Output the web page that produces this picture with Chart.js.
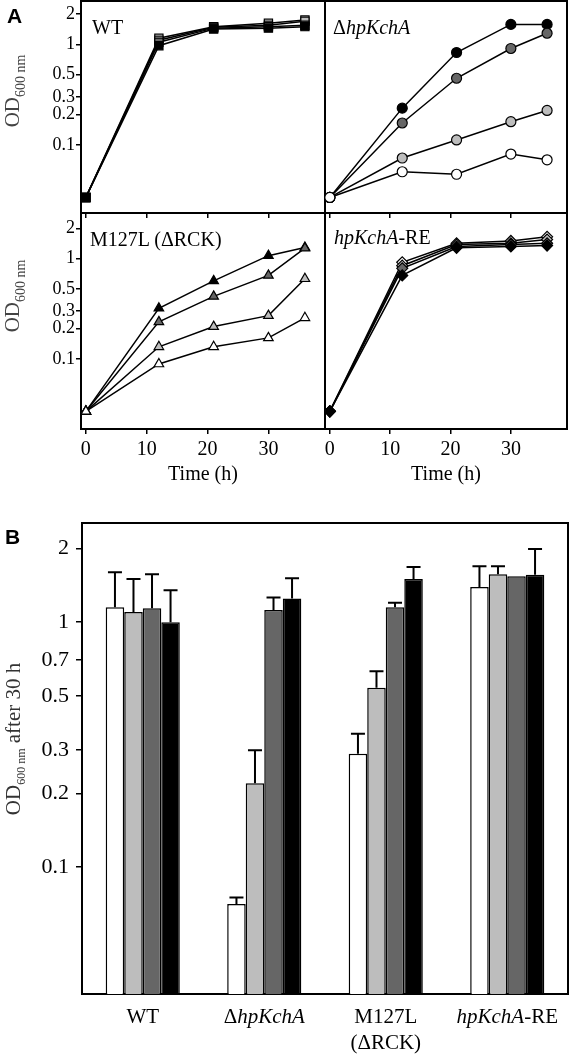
<!DOCTYPE html>
<html>
<head>
<meta charset="utf-8">
<script src="https://cdn.jsdelivr.net/npm/chart.js@4.4.1/dist/chart.umd.min.js"></script>
<style>
  body { margin: 0; background: #fff; }
  #fig { position: relative; width: 570px; height: 1056px; overflow: hidden; font-family: 'Liberation Serif', serif; color: #000; }
  canvas { position: absolute; }
  canvas.top { z-index: 1; }
  .lbl { position: absolute; white-space: nowrap; line-height: 1; z-index: 2; }
  .panel { font-family: 'Liberation Sans', Arial, sans-serif; font-weight: bold; font-size: 21px; }
  .title { font-size: 20px; }
  .ylab { font-size: 21px; color: #444; transform: translate(-50%, -50%) rotate(-90deg); }
  .ylab sub { font-size: 14px; }
  .ylab.b { color: #333; }
  .ylab.b sub { font-size: 12px; }
</style>
</head>
<body>
<div id="fig">
  <canvas id="wtChart" class="top" width="330" height="230" style="left:0;top:0"></canvas>
  <canvas id="delChart" class="top" width="250" height="230" style="left:320px;top:0"></canvas>
  <canvas id="rckChart" width="330" height="285" style="left:0;top:205px"></canvas>
  <canvas id="reChart" width="250" height="285" style="left:320px;top:205px"></canvas>
  <canvas id="barChart" width="570" height="551" style="left:0;top:505px"></canvas>

  <div class="lbl panel" style="left:7px;top:5px">A</div>
  <div class="lbl panel" style="left:5px;top:526px">B</div>

  <div class="lbl title" style="left:92px;top:17px">WT</div>
  <div class="lbl title" style="left:333px;top:17px">&Delta;<i>hpKchA</i></div>
  <div class="lbl title" style="left:90px;top:229px">M127L (&Delta;RCK)</div>
  <div class="lbl title" style="left:334px;top:227px"><i>hpKchA</i>-RE</div>

  <div class="lbl ylab" style="left:15px;top:91px">OD<sub>600 nm</sub></div>
  <div class="lbl ylab" style="left:15px;top:296px">OD<sub>600 nm</sub></div>
  <div class="lbl ylab b" style="left:15px;top:739px">OD<sub>600 nm</sub> after 30 h</div>
</div>

<script>
const hours = [0, 12, 21, 30, 36];
const hourTicks = [0, 10, 20, 30];
const odTicks = [0.1, 0.2, 0.3, 0.5, 1, 2];
const barTicks = [0.1, 0.2, 0.3, 0.5, 0.7, 1, 2];
const shades = ['#ffffff', '#bdbdbd', '#666666', '#000000'];

// A: growth curves, OD600 per time point (white, light gray, dark gray, black)
const wtWhite = [0.03, 1.15, 1.50, 1.62, 1.75];
const wtLight = [0.03, 1.10, 1.48, 1.55, 1.70];
const wtDark = [0.03, 1.05, 1.45, 1.50, 1.55];
const wtBlack = [0.03, 0.97, 1.42, 1.45, 1.50];

const delWhite = [0.03, 0.054, 0.051, 0.081, 0.071];
const delLight = [0.03, 0.074, 0.112, 0.17, 0.22];
const delDark = [0.03, 0.165, 0.46, 0.91, 1.29];
const delBlack = [0.03, 0.232, 0.83, 1.58, 1.58];

const rckWhite = [0.03, 0.089, 0.132, 0.162, 0.257];
const rckLight = [0.03, 0.132, 0.21, 0.27, 0.63];
const rckDark = [0.03, 0.234, 0.42, 0.68, 1.27];
const rckBlack = [0.03, 0.32, 0.60, 1.07, 1.29];

const reWhite = [0.03, 0.92, 1.42, 1.50, 1.65];
const reLight = [0.03, 0.85, 1.38, 1.42, 1.55];
const reDark = [0.03, 0.80, 1.32, 1.38, 1.42];
const reBlack = [0.03, 0.68, 1.28, 1.32, 1.35];

// B: OD600 after 30 h, with upper error bar ends
const strains = ['WT', 'ΔhpKchA', 'M127L (ΔRCK)', 'hpKchA-RE'];
const strainLines = [['WT'], ['ΔhpKchA'], ['M127L', '(ΔRCK)'], ['hpKchA-RE']];
const barWhite = [1.15, 0.0706, 0.29, 1.39];
const barLight = [1.10, 0.22, 0.54, 1.57];
const barDark = [1.14, 1.12, 1.15, 1.54];
const barBlack = [1.00, 1.25, 1.50, 1.56];
const errWhite = [1.60, 0.075, 0.35, 1.69];
const errLight = [1.50, 0.30, 0.63, 1.69];
const errDark = [1.57, 1.26, 1.20, null];
const errBlack = [1.35, 1.51, 1.68, 1.99];

const serif = 'Liberation Serif';

const framePlugin = {
    id: 'frame',
    beforeDatasetsDraw(chart) {
        const { left, top, right, bottom } = chart.chartArea;
        const ctx = chart.ctx;
        ctx.save();
        ctx.strokeStyle = '#000';
        ctx.lineWidth = 2;
        ctx.strokeRect(left, top, right - left, bottom - top);
        ctx.restore();
    }
};

function fixSize(px) {
    return function (scale) {
        if (scale.isHorizontal()) scale.height = px; else scale.width = px;
        scale.paddingLeft = scale.paddingRight = scale.paddingTop = scale.paddingBottom = 0;
    };
}

function setTicks(values) {
    return function (scale) {
        scale.ticks = values.map(v => ({ value: v }));
    };
}

function growthChart(id, series, marker, radius, cfg) {
    const datasets = series.map((values, i) => ({
        data: hours.map((h, k) => ({ x: h, y: values[k] })),
        order: cfg.darkOnTop ? series.length - i : i,
        borderColor: '#000',
        borderWidth: 1.5,
        pointStyle: marker,
        pointRadius: radius,
        pointBackgroundColor: shades[i],
        pointBorderColor: '#000',
        pointBorderWidth: 1.2
    }));

    new Chart(document.getElementById(id), {
        type: 'line',
        data: { datasets: datasets },
        options: {
            responsive: false,
            animation: false,
            devicePixelRatio: 1,
            layout: { padding: cfg.padding, autoPadding: false },
            plugins: { legend: { display: false }, tooltip: { enabled: false } },
            scales: {
                x: {
                    type: 'linear',
                    min: -0.8,
                    max: 39.3,
                    afterBuildTicks: setTicks(hourTicks),
                    afterFit: fixSize(cfg.xHeight),
                    border: { display: false },
                    grid: { drawOnChartArea: false, tickLength: 5, color: '#000', lineWidth: 1.5 },
                    ticks: {
                        display: cfg.showX,
                        padding: 4,
                        color: '#000',
                        font: { family: serif, size: 20 }
                    },
                    title: {
                        display: cfg.showX,
                        text: 'Time (h)',
                        color: '#000',
                        padding: { top: 0, bottom: 3 },
                        font: { family: serif, size: 20 }
                    }
                },
                y: {
                    type: 'logarithmic',
                    display: cfg.yWidth > 0,
                    min: cfg.yMin,
                    max: cfg.yMax,
                    afterBuildTicks: setTicks(odTicks),
                    afterFit: fixSize(cfg.yWidth),
                    border: { display: false },
                    grid: { drawOnChartArea: false, tickLength: 5, color: '#000', lineWidth: 1.5 },
                    ticks: {
                        padding: 1,
                        color: '#000',
                        font: { family: serif, size: 18 },
                        callback: v => String(v)
                    }
                }
            }
        },
        plugins: [framePlugin]
    });
}

growthChart('wtChart', [wtWhite, wtLight, wtDark, wtBlack], 'rect', 5.8,
    { padding: { top: 1, right: 5 }, xHeight: 17, showX: false, yWidth: 81, yMin: 0.021, yMax: 2.7, darkOnTop: true });
growthChart('delChart', [delWhite, delLight, delDark, delBlack], 'circle', 5,
    { padding: { top: 1, left: 5, right: 3 }, xHeight: 17, showX: false, yWidth: 0, yMin: 0.021, yMax: 2.7 });
growthChart('rckChart', [rckWhite, rckLight, rckDark, rckBlack], 'triangle', 5.5,
    { padding: { top: 8, right: 5 }, xHeight: 61, showX: true, yWidth: 81, yMin: 0.02, yMax: 2.85 });
growthChart('reChart', [reWhite, reLight, reDark, reBlack], 'rectRot', 5.5,
    { padding: { top: 8, left: 5, right: 3 }, xHeight: 61, showX: true, yWidth: 0, yMin: 0.02, yMax: 2.85, darkOnTop: true });

// text with "hpKchA" in italics, centred on cx
function drawRich(ctx, text, cx, cy, size) {
    const parts = text.split(/(hpKchA)/).filter(s => s);
    const fonts = parts.map(p => (p === 'hpKchA' ? 'italic ' : '') + size + 'px "' + serif + '"');
    let total = 0;
    const widths = parts.map((p, k) => {
        ctx.font = fonts[k];
        const w = ctx.measureText(p).width;
        total += w;
        return w;
    });
    let x = cx - total / 2;
    ctx.textBaseline = 'middle';
    ctx.textAlign = 'left';
    ctx.fillStyle = '#000';
    parts.forEach((p, k) => {
        ctx.font = fonts[k];
        ctx.fillText(p, x, cy);
        x += widths[k];
    });
}

const errorBarPlugin = {
    id: 'errorBars',
    afterDatasetsDraw(chart) {
        const ctx = chart.ctx;
        const yScale = chart.scales.y;
        const tops = [errWhite, errLight, errDark, errBlack];
        ctx.save();
        ctx.strokeStyle = '#000';
        ctx.lineWidth = 2;
        chart.data.datasets.forEach((ds, i) => {
            chart.getDatasetMeta(i).data.forEach((bar, j) => {
                const err = tops[i][j];
                if (err == null) return;
                const yTop = yScale.getPixelForValue(err);
                ctx.beginPath();
                ctx.moveTo(bar.x, bar.y);
                ctx.lineTo(bar.x, yTop);
                ctx.moveTo(bar.x - 7, yTop);
                ctx.lineTo(bar.x + 7, yTop);
                ctx.stroke();
            });
        });
        ctx.restore();
    }
};

const strainLabelPlugin = {
    id: 'strainLabels',
    afterDraw(chart) {
        const ctx = chart.ctx;
        const xScale = chart.scales.x;
        ctx.save();
        strainLines.forEach((lines, i) => {
            const x = xScale.getPixelForValue(i);
            lines.forEach((line, k) => drawRich(ctx, line, x, chart.chartArea.bottom + 23 + k * 26, 21));
        });
        ctx.restore();
    }
};

new Chart(document.getElementById('barChart'), {
    type: 'bar',
    data: {
        labels: strains,
        datasets: [barWhite, barLight, barDark, barBlack].map((values, i) => ({
            data: values,
            backgroundColor: shades[i],
            borderColor: '#000',
            borderWidth: 1.5,
            barPercentage: 1,
            categoryPercentage: 0.61
        }))
    },
    options: {
        responsive: false,
        animation: false,
        devicePixelRatio: 1,
        layout: { padding: { top: 18, right: 2 } },
        plugins: { legend: { display: false }, tooltip: { enabled: false } },
        scales: {
            x: {
                afterFit: fixSize(62),
                border: { display: false },
                grid: { display: false },
                ticks: { display: false }
            },
            y: {
                type: 'logarithmic',
                min: 0.0303,
                max: 2.54,
                afterBuildTicks: setTicks(barTicks),
                afterFit: fixSize(82),
                border: { display: false },
                grid: { drawOnChartArea: false, tickLength: 6, color: '#000', lineWidth: 1.5 },
                ticks: {
                    padding: 7,
                    color: '#000',
                    font: { family: serif, size: 22 },
                    callback: v => String(v)
                }
            }
        }
    },
    plugins: [framePlugin, errorBarPlugin, strainLabelPlugin]
});
</script>
</body>
</html>
